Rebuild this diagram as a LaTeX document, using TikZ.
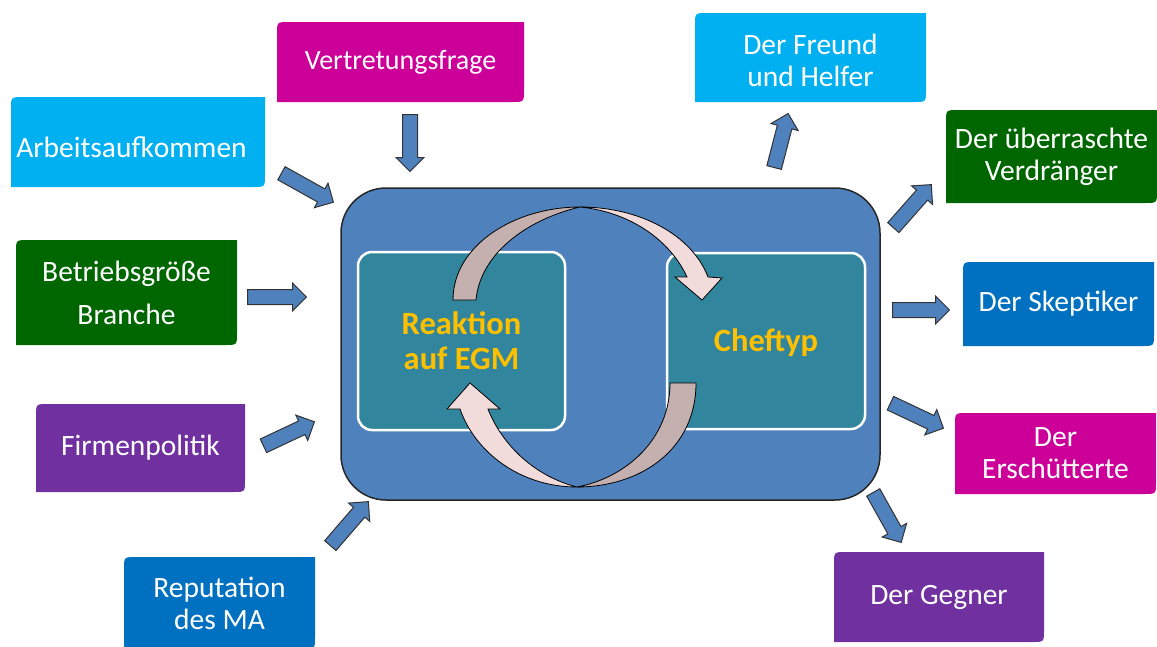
\documentclass[tikz,border=0pt]{standalone}
\usepackage{fontspec}
\setmainfont{Carlito}
\usetikzlibrary{calc,shapes.arrows}
\definecolor{cyanbox}{HTML}{00B0F0}
\definecolor{magbox}{HTML}{CC0099}
\definecolor{greenbox}{HTML}{006600}
\definecolor{purplebox}{HTML}{7030A0}
\definecolor{bluebox}{HTML}{0070C0}
\definecolor{mainblue}{HTML}{4F81BD}
\definecolor{tealbox}{HTML}{31859C}
\definecolor{goldtext}{HTML}{FFC000}
\definecolor{loopdark}{HTML}{C4B0AE}
\definecolor{looplight}{HTML}{F2DCDB}
\newcommand\boxfont{\fontsize{29.5}{32}\selectfont}
\newcommand\innerfont{\fontsize{32.5}{35}\selectfont\bfseries}
\newcommand\lowered[2]{\raisebox{-#1}[\height][\depth]{#2}}
\newcommand\barrow[3]{%
  \path let \p1=($(#3)-(#2)$), \n1={atan2(\y1,\x1)}, \n2={veclen(\x1,\y1)} in
    node[blockarrow, minimum height=\n2, rotate=\n1, anchor=tail] (#1) at (#2) {};}
\tikzset{
  dbox/.style n args={3}{rectangle, minimum width=#1, minimum height=#2, inner sep=0pt,
    align=center, text=white, font=\boxfont,
    path picture={\fill[#3] (path picture bounding box.south west)
      -- ($(path picture bounding box.north west)+(0,12)$)
      .. controls (path picture bounding box.north west) .. ($(path picture bounding box.north west)+(12,0)$)
      -- (path picture bounding box.north east)
      -- ($(path picture bounding box.south east)+(0,-12)$)
      .. controls (path picture bounding box.south east) .. ($(path picture bounding box.south east)+(-12,0)$)
      -- cycle;}},
  mainbox/.style={rectangle, rounded corners=45, fill=mainblue, draw=black!85, line width=1.5},
  innerbox/.style={rectangle, rounded corners=14, fill=tealbox, draw=white, line width=2.5,
    align=center, text=goldtext, font=\innerfont, inner sep=0pt},
  blockarrow/.style={single arrow, fill=mainblue, draw=black!80, line width=1,
    inner xsep=0pt, inner ysep=7pt, minimum width=1pt,
    single arrow head extend=6.5pt, single arrow head indent=0pt, single arrow tip angle=90},
  loopback/.style={fill=loopdark, draw=black, line width=0.8},
  loopfront/.style={fill=looplight, draw=black, line width=0.8},
}
\begin{document}
\begin{tikzpicture}[x=1pt,y=-1pt]
\useasboundingbox (0,0) rectangle (1157,646);
% outer boxes
\node[dbox={247}{80}{magbox}, font=\fontsize{28}{32}\selectfont] (vert) at (400.5,62) {Vertretungsfrage};
\node[dbox={254}{90}{cyanbox}] (arb) at (138,142) {\hspace*{-13pt}\lowered{5pt}{Arbeitsaufkommen}};
\node[dbox={221}{105}{greenbox}] (betr) at (126.5,292.5) {Betriebsgröße\\[11pt]Branche};
\node[dbox={209}{88}{purplebox}] (firm) at (140.5,448) {Firmenpolitik};
\node[dbox={191}{92}{bluebox}] (rep) at (219.5,603) {Reputation\\des MA};
\node[dbox={231}{89}{cyanbox}] (freund) at (810.5,57.5) {\lowered{3pt}{Der Freund}\\\lowered{3pt}{und Helfer}};
\node[dbox={211}{93}{greenbox}] (verd) at (1051.5,156.5) {Der überraschte\\Verdränger};
\node[dbox={191}{84}{bluebox}] (skep) at (1058.5,304) {Der Skeptiker};
\node[dbox={201}{81}{magbox}] (ersch) at (1055.5,453.5) {Der\\Erschütterte};
\node[dbox={210}{90}{purplebox}] (gegn) at (939,597) {Der Gegner};
% central box
\node[mainbox, minimum width=539, minimum height=312] (main) at (610.5,344) {};
\node[innerbox, minimum width=207, minimum height=178] (reak) at (461.5,341) {Reaktion\\auf EGM};
\node[innerbox, minimum width=198, minimum height=176] (chef) at (766,341) {\lowered{2pt}{Cheftyp}};
% loop arrows
\path[loopback] (453,300) .. controls (453,245) and (515,207) .. (580,207)
  .. controls (525,220) and (480,255) .. (476,300) -- cycle;
\path[loopfront] (580,207) .. controls (640,207) and (692,235) .. (708,277)
  -- (722,278) -- (702,300) -- (675,277) -- (687,277)
  .. controls (670,240) and (630,212) .. (580,207) -- cycle;
\path[loopback] (670,383) -- (696,383) .. controls (696,450) and (640,487) .. (577,487)
  .. controls (625,478) and (670,440) .. (670,383) -- cycle;
\path[loopfront] (577,487) .. controls (520,487) and (475,452) .. (460,409)
  -- (447,409) -- (470,383) -- (500,409) -- (488,409)
  .. controls (500,440) and (530,475) .. (577,487) -- cycle;
% block arrow ends
\coordinate (t1) at (410,114);  \coordinate (h1) at (410,171);
\coordinate (t2) at (281,173);  \coordinate (h2) at (333,202);
\coordinate (t3) at (247,297);  \coordinate (h3) at (306,297);
\coordinate (t4) at (263,446);  \coordinate (h4) at (314,422);
\coordinate (t5) at (330,546);  \coordinate (h5) at (368,502);
\coordinate (t6) at (774,168);  \coordinate (h6) at (788,114);
\coordinate (t7) at (893,228);  \coordinate (h7) at (931,185);
\coordinate (t8) at (892,310);  \coordinate (h8) at (949,310);
\coordinate (t9) at (890,403);  \coordinate (h9) at (943,428);
\coordinate (t10) at (873,492); \coordinate (h10) at (901,542);
\barrow{a1}{t1}{h1}
\barrow{a2}{t2}{h2}
\barrow{a3}{t3}{h3}
\barrow{a4}{t4}{h4}
\barrow{a5}{t5}{h5}
\barrow{a6}{t6}{h6}
\barrow{a7}{t7}{h7}
\barrow{a8}{t8}{h8}
\barrow{a9}{t9}{h9}
\barrow{a10}{t10}{h10}
\end{tikzpicture}
\end{document}
